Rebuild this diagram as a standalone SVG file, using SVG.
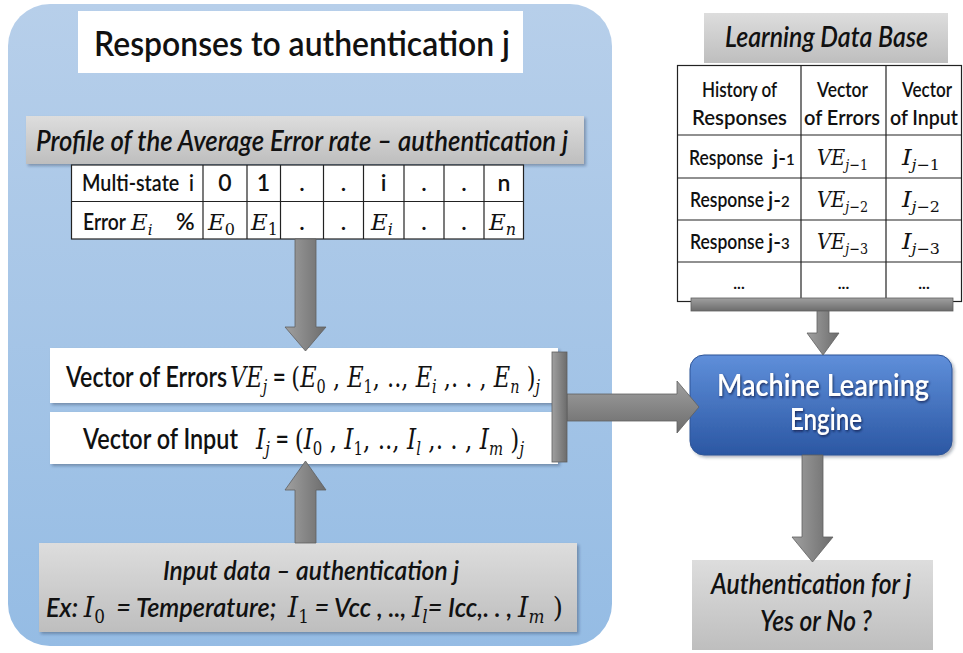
<svg xmlns="http://www.w3.org/2000/svg" width="963" height="653" viewBox="0 0 963 653">
<defs>
  <linearGradient id="gPanel" x1="0" y1="0" x2="0" y2="1">
    <stop offset="0" stop-color="#b7cfea"/>
    <stop offset="1" stop-color="#95bce4"/>
  </linearGradient>
  <linearGradient id="gGray" x1="0" y1="0" x2="0" y2="1">
    <stop offset="0" stop-color="#dddddd"/>
    <stop offset="1" stop-color="#bebebe"/>
  </linearGradient>
  <linearGradient id="gEngine" x1="0" y1="0" x2="0" y2="1">
    <stop offset="0" stop-color="#5f8fda"/>
    <stop offset="1" stop-color="#2b57a3"/>
  </linearGradient>
  <linearGradient id="gArrV" x1="0" y1="0" x2="1" y2="0">
    <stop offset="0" stop-color="#a0a0a0"/>
    <stop offset="1" stop-color="#6c6c6c"/>
  </linearGradient>
  <linearGradient id="gArrH" x1="0" y1="0" x2="0" y2="1">
    <stop offset="0" stop-color="#a0a0a0"/>
    <stop offset="1" stop-color="#6c6c6c"/>
  </linearGradient>
  <filter id="sh" x="-5%" y="-10%" width="115%" height="130%">
    <feDropShadow dx="2" dy="2" stdDeviation="1.5" flood-color="#1e2d44" flood-opacity="0.35"/>
  </filter>
  <filter id="tsh" x="-5%" y="-20%" width="115%" height="150%">
    <feDropShadow dx="1" dy="1.5" stdDeviation="0.8" flood-color="#0d1f44" flood-opacity="0.8"/>
  </filter>
</defs>
<style>
  .s{font-family:"Lato","Liberation Sans",sans-serif;fill:#111;font-weight:600}
  .it{font-style:italic}
  .m{font-family:"DejaVu Serif","Liberation Serif",serif;font-style:italic;fill:#111;font-weight:normal}
  .r{font-family:"DejaVu Serif","Liberation Serif",serif;font-style:normal}
  .tl{fill:none;stroke:#222;stroke-width:1.2}
  .arr{stroke:#5f5f5f;stroke-width:0.8}
  .pre{white-space:pre}
</style>

<rect id="panel" x="8" y="4" width="604" height="642" rx="42" style="fill:url(#gPanel)"/>

<g id="title">
  <rect x="78" y="11" width="445" height="62" fill="#fff"/>
  <text class="s" x="94" y="56" font-size="35" textLength="416" lengthAdjust="spacingAndGlyphs">Responses to authentication j</text>
</g>

<g id="profile">
  <rect x="26" y="116" width="558" height="48" fill="url(#gGray)" filter="url(#sh)"/>
  <text class="s it" x="36" y="151" font-size="28" textLength="532" lengthAdjust="spacingAndGlyphs">Profile of the Average Error rate – authentication j</text>
  <rect x="71.5" y="165" width="452" height="74" fill="#fff"/>
  <g class="tl">
    <rect x="71.5" y="165" width="452" height="74"/>
    <line x1="71.5" y1="201.5" x2="523.5" y2="201.5"/>
    <line x1="203" y1="165" x2="203" y2="239"/>
    <line x1="247" y1="165" x2="247" y2="239"/>
    <line x1="280.5" y1="165" x2="280.5" y2="239"/>
    <line x1="323.5" y1="165" x2="323.5" y2="239"/>
    <line x1="363.5" y1="165" x2="363.5" y2="239"/>
    <line x1="404" y1="165" x2="404" y2="239"/>
    <line x1="444" y1="165" x2="444" y2="239"/>
    <line x1="484" y1="165" x2="484" y2="239"/>
  </g>
  <text class="s pre" x="82" y="191" font-size="23" textLength="112" lengthAdjust="spacingAndGlyphs">Multi-state  i</text>
  <g class="s" font-size="23" text-anchor="middle">
    <text x="225" y="191">0</text>
    <text x="263.5" y="191">1</text>
    <text x="302" y="191">.</text>
    <text x="343.5" y="191">.</text>
    <text x="383.5" y="191">i</text>
    <text x="424" y="191">.</text>
    <text x="464" y="191">.</text>
    <text x="504" y="191">n</text>
    <text x="302" y="230">.</text>
    <text x="343.5" y="230">.</text>
    <text x="424" y="230">.</text>
    <text x="464" y="230">.</text>
  </g>
  <text class="s" x="83" y="230" font-size="23" textLength="43" lengthAdjust="spacingAndGlyphs">Error</text>
  <text class="m" x="131" y="230" font-size="23">E<tspan font-size="15" dy="5">i</tspan></text>
  <text class="s" x="176" y="230" font-size="23">%</text>
  <text class="m" x="208" y="230" font-size="23">E<tspan class="r" font-size="16" dy="5">0</tspan></text>
  <text class="m" x="251" y="230" font-size="23">E<tspan class="r" font-size="16" dy="5">1</tspan></text>
  <text class="m" x="371" y="230" font-size="23">E<tspan font-size="16" dy="5">i</tspan></text>
  <text class="m" x="489" y="230" font-size="23">E<tspan font-size="16" dy="5">n</tspan></text>
</g>

<g id="vector-errors">
  <rect x="50" y="348" width="508" height="55" fill="#fff" filter="url(#sh)"/>
  <text class="s" x="66" y="387" font-size="29" textLength="161" lengthAdjust="spacingAndGlyphs">Vector of Errors</text>
  <text class="m pre" x="230" y="387" font-size="28" textLength="310" lengthAdjust="spacingAndGlyphs">VE<tspan font-size="18" dy="6">j</tspan><tspan class="s" style="font-style:normal" dy="-6"> = </tspan><tspan class="r">(</tspan>E<tspan class="r" font-size="18" dy="6">0</tspan><tspan class="r" dy="-6"> , </tspan>E<tspan class="r" font-size="18" dy="6">1</tspan><tspan class="r" dy="-6">, .., </tspan>E<tspan font-size="18" dy="6">i</tspan><tspan class="r" dy="-6"> ,. . , </tspan>E<tspan font-size="18" dy="6">n</tspan><tspan class="r" dy="-6"> )</tspan><tspan font-size="18" dy="6">j</tspan></text>
</g>

<g id="vector-input">
  <rect x="50" y="412" width="508" height="52" fill="#fff" filter="url(#sh)"/>
  <text class="s" x="83" y="449" font-size="29" textLength="155" lengthAdjust="spacingAndGlyphs">Vector of Input</text>
  <text class="m pre" x="256" y="449" font-size="28" textLength="268" lengthAdjust="spacingAndGlyphs">I<tspan font-size="18" dy="6">j</tspan><tspan class="s" style="font-style:normal" dy="-6"> = </tspan><tspan class="r">(</tspan>I<tspan class="r" font-size="18" dy="6">0</tspan><tspan class="r" dy="-6"> , </tspan>I<tspan class="r" font-size="18" dy="6">1</tspan><tspan class="r" dy="-6">, .., </tspan>I<tspan font-size="18" dy="6">l</tspan><tspan class="r" dy="-6"> ,. . , </tspan>I<tspan font-size="18" dy="6">m</tspan><tspan class="r" dy="-6"> )</tspan><tspan font-size="18" dy="6">j</tspan></text>
</g>

<g id="input-data">
  <rect x="39" y="543" width="538" height="89" fill="url(#gGray)" filter="url(#sh)"/>
  <text class="s it" x="163" y="580" font-size="27" textLength="296" lengthAdjust="spacingAndGlyphs">Input data – authentication j</text>
  <text class="s it pre" x="46" y="617" font-size="27" textLength="517" lengthAdjust="spacingAndGlyphs">Ex: <tspan class="m" font-size="28">I</tspan><tspan class="m r" font-size="18" dy="6">0</tspan><tspan dy="-6">  = Temperature;  </tspan><tspan class="m" font-size="28">I</tspan><tspan class="m r" font-size="18" dy="6">1</tspan><tspan dy="-6"> = Vcc , .., </tspan><tspan class="m" font-size="28">I</tspan><tspan class="m" font-size="18" dy="6">l</tspan><tspan dy="-6">= Icc,. . , </tspan><tspan class="m" font-size="28">I</tspan><tspan class="m" font-size="18" dy="6">m</tspan><tspan class="m r" font-size="28" dy="-6"> )</tspan></text>
</g>

<g id="learning-db">
  <rect x="704" y="13" width="244" height="50" fill="url(#gGray)"/>
  <text class="s it" x="725" y="47" font-size="28" textLength="203" lengthAdjust="spacingAndGlyphs">Learning Data Base</text>
  <rect x="677.5" y="65.5" width="284" height="236" fill="#fff"/>
  <g class="tl">
    <rect x="677.5" y="65.5" width="284" height="236"/>
    <line x1="801" y1="65.5" x2="801" y2="301.5"/>
    <line x1="886" y1="65.5" x2="886" y2="301.5"/>
    <line x1="677.5" y1="135" x2="961.5" y2="135"/>
    <line x1="677.5" y1="178" x2="961.5" y2="178"/>
    <line x1="677.5" y1="220" x2="961.5" y2="220"/>
    <line x1="677.5" y1="262" x2="961.5" y2="262"/>
  </g>
  <g class="s" font-size="21">
    <text x="702" y="97" textLength="75" lengthAdjust="spacingAndGlyphs">History of</text>
    <text x="692" y="125" textLength="95" lengthAdjust="spacingAndGlyphs">Responses</text>
    <text x="817" y="97" textLength="51" lengthAdjust="spacingAndGlyphs">Vector</text>
    <text x="804" y="125" textLength="76" lengthAdjust="spacingAndGlyphs">of Errors</text>
    <text x="902" y="97" textLength="50" lengthAdjust="spacingAndGlyphs">Vector</text>
    <text x="890" y="125" textLength="68" lengthAdjust="spacingAndGlyphs">of Input</text>
    <text x="689" y="165" textLength="74" lengthAdjust="spacingAndGlyphs">Response</text>
    <text x="773" y="165">j-<tspan font-size="15">1</tspan></text>
    <text x="690" y="207" textLength="74" lengthAdjust="spacingAndGlyphs">Response</text>
    <text x="768" y="207">j-<tspan font-size="15">2</tspan></text>
    <text x="690" y="249" textLength="74" lengthAdjust="spacingAndGlyphs">Response</text>
    <text x="768" y="249">j-<tspan font-size="15">3</tspan></text>
    <g text-anchor="middle" font-weight="bold" font-size="16">
      <text x="739" y="289">...</text>
      <text x="843.5" y="289">...</text>
      <text x="924" y="289">...</text>
    </g>
  </g>
  <g class="m" font-size="23">
    <text x="817" y="165" textLength="51" lengthAdjust="spacingAndGlyphs">VE<tspan font-size="15" dy="5">j−<tspan class="r">1</tspan></tspan></text>
    <text x="817" y="207" textLength="51" lengthAdjust="spacingAndGlyphs">VE<tspan font-size="15" dy="5">j−<tspan class="r">2</tspan></tspan></text>
    <text x="817" y="249" textLength="51" lengthAdjust="spacingAndGlyphs">VE<tspan font-size="15" dy="5">j−<tspan class="r">3</tspan></tspan></text>
    <text x="902" y="165" textLength="38" lengthAdjust="spacingAndGlyphs">I<tspan font-size="15" dy="5">j−<tspan class="r">1</tspan></tspan></text>
    <text x="902" y="207" textLength="38" lengthAdjust="spacingAndGlyphs">I<tspan font-size="15" dy="5">j−<tspan class="r">2</tspan></tspan></text>
    <text x="902" y="249" textLength="38" lengthAdjust="spacingAndGlyphs">I<tspan font-size="15" dy="5">j−<tspan class="r">3</tspan></tspan></text>
  </g>
</g>

<g id="ml-engine">
  <rect x="690" y="355" width="262" height="100" rx="14" fill="url(#gEngine)" stroke="#2f5597" stroke-width="1" filter="url(#sh)"/>
  <g class="s" font-size="30" style="fill:#fff" filter="url(#tsh)" text-anchor="middle">
    <text x="823" y="396" textLength="212" lengthAdjust="spacingAndGlyphs">Machine Learning</text>
    <text x="826" y="430" textLength="72" lengthAdjust="spacingAndGlyphs">Engine</text>
  </g>
</g>

<g id="decision">
  <rect x="692" y="560" width="241" height="90" fill="url(#gGray)"/>
  <text class="s it" x="811" y="594" font-size="28" text-anchor="middle" textLength="200" lengthAdjust="spacingAndGlyphs">Authentication for j</text>
  <text class="s it" x="816" y="631" font-size="28" text-anchor="middle" textLength="112" lengthAdjust="spacingAndGlyphs">Yes or No ?</text>
</g>

<g id="connectors">
  <path class="arr" fill="url(#gArrV)" d="M295,239 H316 V327 H326 L305.5,351 L285,327 H295 Z"/>
  <path class="arr" fill="url(#gArrV)" d="M295,543 V490 H285 L305.5,461 L326,490 H316 V543 Z"/>
  <path class="arr" fill="url(#gArrH)" d="M567,394 H677 V381 L699,407 L677,433 V421 H567 Z"/>
  <rect class="arr" fill="url(#gArrV)" x="552" y="352" width="15" height="110"/>
  <rect class="arr" fill="url(#gArrH)" x="691" y="298" width="262" height="13"/>
  <path class="arr" fill="url(#gArrV)" d="M817,311 H829 V333 H839 L823,355 L807,333 H817 Z"/>
  <path class="arr" fill="url(#gArrV)" d="M802,455 H823 V537 H833 L812.5,562 L792,537 H802 Z"/>
</g>
</svg>
